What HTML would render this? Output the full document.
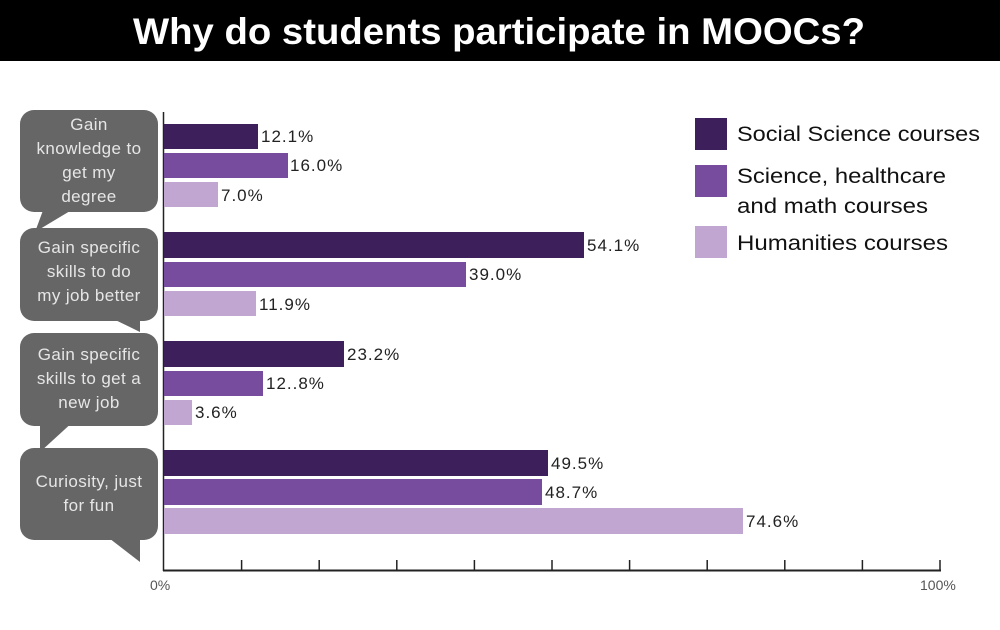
<!DOCTYPE html>
<html><head><style>
body{margin:0;width:1000px;height:625px;background:#fff;overflow:hidden;font-family:"Liberation Sans",sans-serif}
</style></head><body>
<svg width="1000" height="625" xmlns="http://www.w3.org/2000/svg" font-family="Liberation Sans, sans-serif">
<rect x="0" y="0" width="1000" height="61" fill="#000"/>
<text x="133" y="44" fill="#fff" font-size="37" font-weight="bold" textLength="732" lengthAdjust="spacingAndGlyphs">Why do students participate in MOOCs?</text>
<g fill="#666">
<rect x="20" y="110" width="138" height="102" rx="14"/><polygon points="45,205 80,205 35,232"/>
<rect x="20" y="228" width="138" height="93" rx="14"/><polygon points="105,315 140,315 140,332"/>
<rect x="20" y="333" width="138" height="93" rx="14"/><polygon points="40,420 75,420 40,452"/>
<rect x="20" y="448" width="138" height="92" rx="14"/><polygon points="105,535 140,535 140,562"/>
</g>
<g fill="#e6e6e6" font-size="17" text-anchor="middle" letter-spacing="0.4">
<text x="89" y="130">Gain</text><text x="89" y="154">knowledge to</text><text x="89" y="178">get my</text><text x="89" y="202">degree</text>
<text x="89" y="253">Gain specific</text><text x="89" y="277">skills to do</text><text x="89" y="301">my job better</text>
<text x="89" y="360">Gain specific</text><text x="89" y="384">skills to get a</text><text x="89" y="408">new job</text>
<text x="89" y="487">Curiosity, just</text><text x="89" y="511">for fun</text>
</g>
<line x1="163.5" y1="112" x2="163.5" y2="571" stroke="#222" stroke-width="1.5"/>
<line x1="163" y1="570.5" x2="941" y2="570.5" stroke="#222" stroke-width="2"/>
<g stroke="#222" stroke-width="1.5">
<line x1="241.6" y1="560" x2="241.6" y2="570"/><line x1="319.2" y1="560" x2="319.2" y2="570"/><line x1="396.8" y1="560" x2="396.8" y2="570"/><line x1="474.4" y1="560" x2="474.4" y2="570"/><line x1="552" y1="560" x2="552" y2="570"/><line x1="629.6" y1="560" x2="629.6" y2="570"/><line x1="707.2" y1="560" x2="707.2" y2="570"/><line x1="784.8" y1="560" x2="784.8" y2="570"/><line x1="862.4" y1="560" x2="862.4" y2="570"/><line x1="940" y1="560" x2="940" y2="570"/>
</g>
<g font-size="14" fill="#555"><text x="150" y="590">0%</text><text x="920" y="590">100%</text></g>
<g>
<rect x="164" y="124" width="94" height="25" fill="#3d1f5c"/>
<rect x="164" y="153" width="124" height="25" fill="#774c9e"/>
<rect x="164" y="182" width="54" height="25" fill="#c0a6d0"/>
<rect x="164" y="232" width="420" height="26" fill="#3d1f5c"/>
<rect x="164" y="262" width="302" height="25" fill="#774c9e"/>
<rect x="164" y="291" width="92" height="25" fill="#c0a6d0"/>
<rect x="164" y="341" width="180" height="26" fill="#3d1f5c"/>
<rect x="164" y="371" width="99" height="25" fill="#774c9e"/>
<rect x="164" y="400" width="28" height="25" fill="#c0a6d0"/>
<rect x="164" y="450" width="384" height="26" fill="#3d1f5c"/>
<rect x="164" y="479" width="378" height="26" fill="#774c9e"/>
<rect x="164" y="508" width="579" height="26" fill="#c0a6d0"/>
</g>
<g font-size="17" fill="#222" letter-spacing="1">
<text x="261" y="142">12.1%</text><text x="290" y="171">16.0%</text><text x="221" y="201">7.0%</text>
<text x="587" y="251">54.1%</text><text x="469" y="280">39.0%</text><text x="259" y="310">11.9%</text>
<text x="347" y="360">23.2%</text><text x="266" y="389">12..8%</text><text x="195" y="418">3.6%</text>
<text x="551" y="469">49.5%</text><text x="545" y="498">48.7%</text><text x="746" y="527">74.6%</text>
</g>
<rect x="695" y="118" width="32" height="32" fill="#3d1f5c"/>
<rect x="695" y="165" width="32" height="32" fill="#774c9e"/>
<rect x="695" y="226" width="32" height="32" fill="#c0a6d0"/>
<g font-size="21" fill="#111">
<text x="737" y="141" textLength="243" lengthAdjust="spacingAndGlyphs">Social Science courses</text>
<text x="737" y="183" textLength="209" lengthAdjust="spacingAndGlyphs">Science, healthcare</text><text x="737" y="213" textLength="191" lengthAdjust="spacingAndGlyphs">and math courses</text>
<text x="737" y="250" textLength="211" lengthAdjust="spacingAndGlyphs">Humanities courses</text>
</g>
</svg>
</body></html>
